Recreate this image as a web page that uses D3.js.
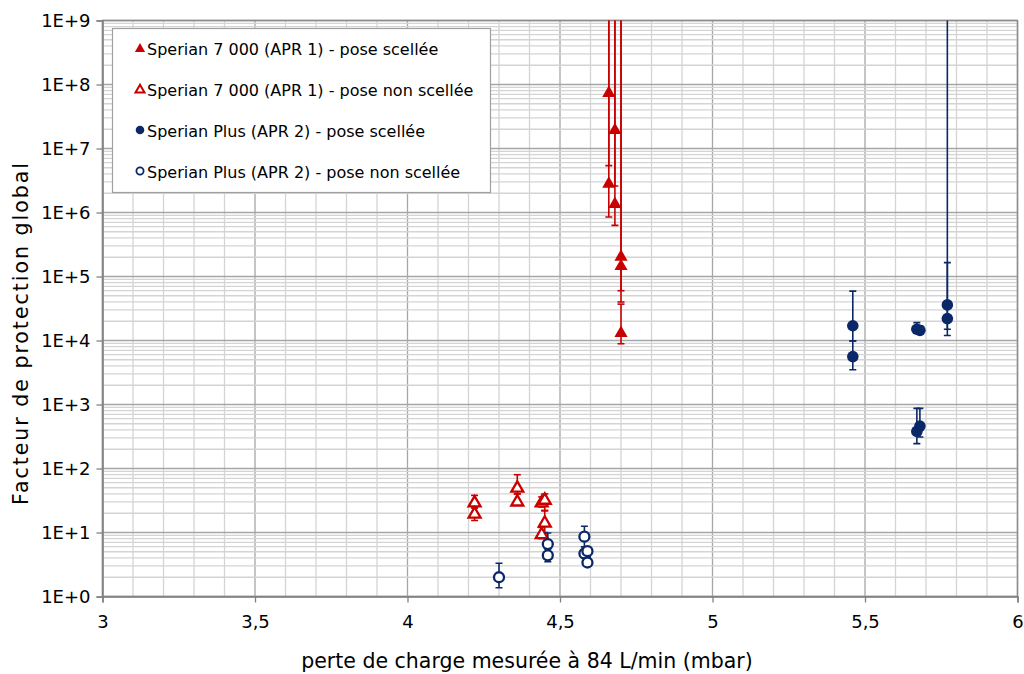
<!DOCTYPE html>
<html><head><meta charset="utf-8">
<script src="https://cdn.jsdelivr.net/npm/d3@7"></script>
<style>
body{margin:0;background:#fff;}
svg{display:block;font-family:"DejaVu Sans",sans-serif;}
</style></head>
<body><svg id="c" width="1024" height="674"></svg>
<script>
// ---- data ----
const xTicks = [3, 3.5, 4, 4.5, 5, 5.5, 6];
const xTickLabels = ["3", "3,5", "4", "4,5", "5", "5,5", "6"];
const yTicks = [1, 1e1, 1e2, 1e3, 1e4, 1e5, 1e6, 1e7, 1e8, 1e9];
const yTickLabels = ["1E+0","1E+1","1E+2","1E+3","1E+4","1E+5","1E+6","1E+7","1E+8","1E+9"];
const xTitle = "perte de charge mesurée à 84 L/min (mbar)";
const yTitle = "Facteur de protection global";
const seriesNames = [
  "Sperian 7 000 (APR 1) - pose scellée",
  "Sperian 7 000 (APR 1) - pose non scellée",
  "Sperian Plus (APR 2) - pose scellée",
  "Sperian Plus (APR 2) - pose non scellée"
];
// APR 1 sealed
const apr1SealedX  = [4.66, 4.66, 4.68, 4.68, 4.70, 4.70, 4.70];
const apr1SealedY  = [7.6e7, 2.9e6, 2.0e7, 1.4e6, 2.1e5, 1.5e5, 1.35e4];
const apr1SealedLo = [5.4e6, 8.5e5, 2.6e6, 6.3e5, 6.0e4, 4.0e4, 8.9e3];
const apr1SealedHi = [1e10, 1e10, 1e10, 1e10, 1e10, 1e10, 3.7e4];
// APR 1 non sealed
const apr1OpenX  = [4.22, 4.22, 4.36, 4.36, 4.44, 4.45, 4.45, 4.44];
const apr1OpenY  = [30, 20, 51, 31, 30, 33, 14.5, 9.6];
const apr1OpenLo = [24, 15.4, 40, 27, 25, 22, 10, 8];
const apr1OpenHi = [38, 25, 80, 40, 36, 40, 22, 12];
// APR 2 sealed
const apr2SealedX  = [5.46, 5.46, 5.67, 5.68, 5.77, 5.77, 5.67, 5.68];
const apr2SealedY  = [1.7e4, 5.6e3, 1.5e4, 1.44e4, 3.6e4, 2.2e4, 380, 460];
const apr2SealedLo = [9.8e3, 3.5e3, 1.3e4, 1.3e4, 1.5e4, 1.2e4, 245, 310];
const apr2SealedHi = [5.9e4, 9.8e3, 1.9e4, 1.7e4, 1e10, 1.65e5, 870, 870];
// APR 2 non sealed
const apr2OpenX  = [4.30, 4.46, 4.46, 4.58, 4.58, 4.59, 4.59];
const apr2OpenY  = [2.0, 6.6, 4.4, 8.6, 4.7, 5.1, 3.4];
const apr2OpenLo = [1.37, 4.5, 3.5, 6.0, 4.0, 4.2, 3.0];
const apr2OpenHi = [3.3, 9.8, 5.5, 12.5, 6.0, 6.0, 4.0];

// ---- layout ----
const RED = "#C80000", BLUE = "#0A2868";
const L = 102.5, R = 1017.5, T = 20.5, B = 596.5;
const svg = d3.select("#c");
const x = d3.scaleLinear().domain([3, 6]).range([L, R]);
const y = d3.scaleLog().domain([1, 1e9]).range([B, T]);

// gridlines
const g = svg.append("g");
const minorX = d3.range(30, 61).map(v => v / 10);
g.selectAll(".vx").data(minorX).join("line")
  .attr("x1", d => x(d)).attr("x2", d => x(d)).attr("y1", T).attr("y2", B)
  .attr("stroke", d => Math.abs(d*2 - Math.round(d*2)) < 1e-6 ? "#a6a6a6" : "#d4d4d4")
  .attr("stroke-width", 1.3);
const minorY = [];
for (let e = 0; e < 9; e++) for (let k = 2; k <= 9; k++) minorY.push(k * Math.pow(10, e));
g.selectAll(".hy").data(minorY).join("line")
  .attr("x1", L).attr("x2", R).attr("y1", d => y(d)).attr("y2", d => y(d))
  .attr("stroke", "#d4d4d4").attr("stroke-width", 1.3);
g.selectAll(".hY").data(yTicks).join("line")
  .attr("x1", L).attr("x2", R).attr("y1", d => y(d)).attr("y2", d => y(d))
  .attr("stroke", "#a6a6a6").attr("stroke-width", 1.3);
// plot border
svg.append("rect").attr("x", L).attr("y", T).attr("width", R - L).attr("height", B - T)
  .attr("fill", "none").attr("stroke", "#8c8c8c").attr("stroke-width", 1.5);

// axes
const xAxis = d3.axisBottom(x).tickValues(xTicks).tickFormat((d, i) => xTickLabels[i]).tickSize(6).tickPadding(13);
const yAxis = d3.axisLeft(y).tickValues(yTicks).tickFormat((d, i) => yTickLabels[i]).tickSize(6).tickPadding(6);
const gx = svg.append("g").attr("transform", `translate(0,${B})`).call(xAxis);
const gy = svg.append("g").attr("transform", `translate(${L},0)`).call(yAxis);
[gx, gy].forEach(a => {
  a.select(".domain").attr("stroke", "#808080").attr("stroke-width", 1.5);
  a.selectAll(".tick line").attr("stroke", "#808080").attr("stroke-width", 1.3);
  a.selectAll(".tick text").attr("fill", "#000").style("font-size", "18px").style("font-family", "DejaVu Sans");
});
svg.append("text").attr("x", 527).attr("y", 668).attr("text-anchor", "middle")
  .style("font-size", "20.5px").text(xTitle);
svg.append("text").attr("transform", "translate(28,334) rotate(-90)").attr("text-anchor", "middle")
  .attr("textLength", 342).attr("lengthAdjust", "spacing")
  .style("font-size", "20.5px").text(yTitle);

// data marks
const clip = svg.append("clipPath").attr("id", "pc").append("rect")
  .attr("x", L).attr("y", T).attr("width", R - L).attr("height", B - T);
const plot = svg.append("g").attr("clip-path", "url(#pc)");

const tri = d3.symbol().type(d3.symbolTriangle).size(75)();
const triO = d3.symbol().type(d3.symbolTriangle).size(62)();

function drawSeries(X, Y, Lo, Hi, color, kind) {
  const data = X.map((d, i) => ({x: X[i], y: Y[i], lo: Lo[i], hi: Hi[i]}));
  const eg = plot.append("g").attr("stroke", color).attr("stroke-width", 1.6);
  eg.selectAll("line.v").data(data).join("line")
    .attr("x1", d => x(d.x)).attr("x2", d => x(d.x))
    .attr("y1", d => y(d.lo)).attr("y2", d => y(d.hi));
  eg.selectAll("line.lo").data(data).join("line")
    .attr("x1", d => x(d.x) - 3.5).attr("x2", d => x(d.x) + 3.5)
    .attr("y1", d => y(d.lo)).attr("y2", d => y(d.lo));
  eg.selectAll("line.hi").data(data).join("line")
    .attr("x1", d => x(d.x) - 3.5).attr("x2", d => x(d.x) + 3.5)
    .attr("y1", d => y(d.hi)).attr("y2", d => y(d.hi));
  const mg = plot.append("g");
  if (kind === "triF") {
    mg.selectAll("path").data(data).join("path").attr("d", tri)
      .attr("transform", d => `translate(${x(d.x)},${y(d.y) + 1})`).attr("fill", color);
  } else if (kind === "triO") {
    mg.selectAll("path").data(data).join("path").attr("d", triO)
      .attr("transform", d => `translate(${x(d.x)},${y(d.y) + 1})`)
      .attr("fill", "#fff").attr("stroke", color).attr("stroke-width", 2.3);
  } else if (kind === "cirF") {
    mg.selectAll("circle").data(data).join("circle")
      .attr("cx", d => x(d.x)).attr("cy", d => y(d.y)).attr("r", 5.8).attr("fill", color);
  } else {
    mg.selectAll("circle").data(data).join("circle")
      .attr("cx", d => x(d.x)).attr("cy", d => y(d.y)).attr("r", 5)
      .attr("fill", "#fff").attr("stroke", color).attr("stroke-width", 2.3);
  }
}
drawSeries(apr1OpenX, apr1OpenY, apr1OpenLo, apr1OpenHi, RED, "triO");
drawSeries(apr2OpenX, apr2OpenY, apr2OpenLo, apr2OpenHi, BLUE, "cirO");
drawSeries(apr2SealedX, apr2SealedY, apr2SealedLo, apr2SealedHi, BLUE, "cirF");
drawSeries(apr1SealedX, apr1SealedY, apr1SealedLo, apr1SealedHi, RED, "triF");

// legend
const lg = svg.append("g");
lg.append("rect").attr("x", 112.5).attr("y", 28.5).attr("width", 378).attr("height", 164)
  .attr("fill", "#fff").attr("stroke", "#a0a0a0").attr("stroke-width", 1.2);
const kinds = ["triF", "triO", "cirF", "cirO"];
const colors = [RED, RED, BLUE, BLUE];
const rowY = [49, 90, 131, 172];
seriesNames.forEach((name, i) => {
  const cy = rowY[i], cx = 140;
  if (kinds[i] === "triF") lg.append("path").attr("d", d3.symbol().type(d3.symbolTriangle).size(45)()).attr("transform", `translate(${cx},${cy})`).attr("fill", colors[i]);
  else if (kinds[i] === "triO") lg.append("path").attr("d", d3.symbol().type(d3.symbolTriangle).size(35)()).attr("transform", `translate(${cx},${cy})`).attr("fill", "#fff").attr("stroke", colors[i]).attr("stroke-width", 2);
  else if (kinds[i] === "cirF") lg.append("circle").attr("cx", cx).attr("cy", cy - 1).attr("r", 4.3).attr("fill", colors[i]);
  else lg.append("circle").attr("cx", cx).attr("cy", cy - 1).attr("r", 3.6).attr("fill", "#fff").attr("stroke", colors[i]).attr("stroke-width", 1.8);
  lg.append("text").attr("x", 147).attr("y", cy + 5.5).style("font-size", "16px").text(name);
});
</script></body></html>
